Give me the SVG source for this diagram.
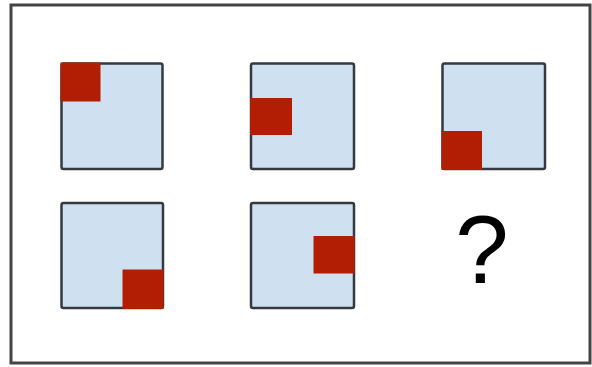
<svg xmlns="http://www.w3.org/2000/svg" width="592" height="367" viewBox="0 0 592 367">
<style>
.frame{fill:#fff;stroke:#444;stroke-width:3}
.sq{fill:#cfe0f1;stroke:#343a40;stroke-width:2.5}
.red{fill:#b11e04}
.q{font-family:"Liberation Sans",Arial,sans-serif;font-size:96px;fill:#000;text-anchor:middle}
</style>
<rect x="0" y="0" width="592" height="367" fill="#fff"/>
<rect class="frame" x="11" y="5" width="579" height="358"/>
<g id="cell1"><rect class="sq" x="61.5" y="63.5" width="101" height="105.5" rx="2"/><rect class="red" x="60.5" y="62.5" width="40" height="39"/></g>
<g id="cell2"><rect class="sq" x="251" y="63.5" width="103" height="105.5" rx="2"/><rect class="red" x="250" y="98" width="42" height="37"/></g>
<g id="cell3"><rect class="sq" x="442.5" y="63.5" width="102.5" height="105.5" rx="2"/><rect class="red" x="441.5" y="131" width="40.5" height="39"/></g>
<g id="cell4"><rect class="sq" x="61.5" y="203" width="101.5" height="105" rx="2"/><rect class="red" x="122.5" y="269.5" width="41" height="39.5"/></g>
<g id="cell5"><rect class="sq" x="251" y="203" width="103" height="105" rx="2"/><rect class="red" x="313.5" y="236" width="41" height="37.5"/></g>
<g id="cell6"><text class="q" x="482" y="283">?</text></g>
<g id="connectors"/>
</svg>
